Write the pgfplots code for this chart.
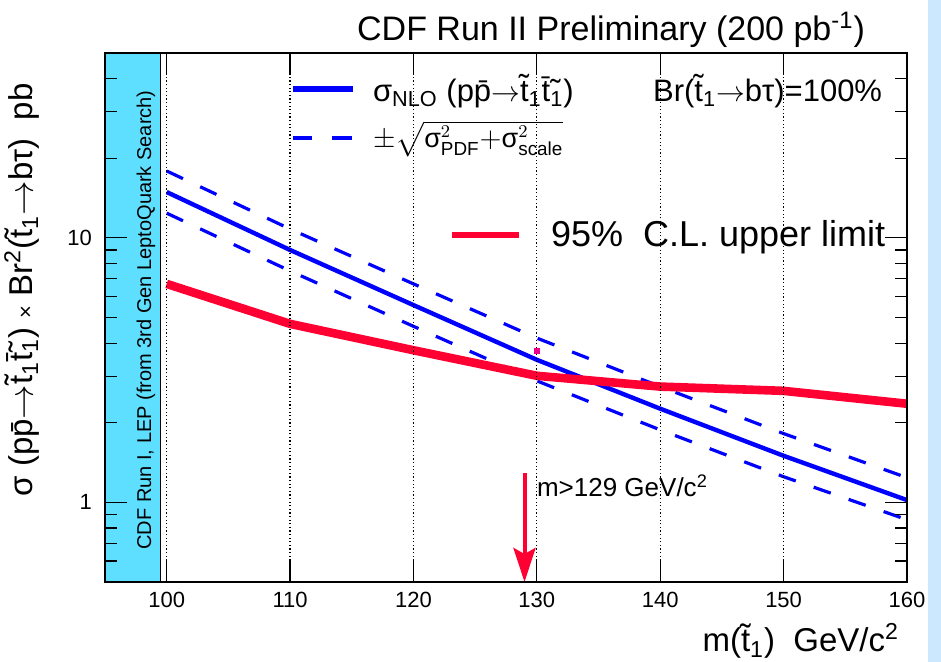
\documentclass[border=0pt]{standalone}
\usepackage{pgfplots}
\pgfplotsset{compat=1.18}
\usepackage{amsmath}
\usepackage{fontspec}
\setmainfont{Liberation Sans}
\usetikzlibrary{arrows.meta}
\definecolor{limred}{HTML}{FF0033}
\definecolor{nlo}{HTML}{0000FF}
\definecolor{exclband}{HTML}{5FDFFF}
\definecolor{slide}{HTML}{CCE8FF}
\newcommand{\stp}{\~{t}\textsubscript{1}}
\newcommand{\astp}{\~{\={t}}\textsubscript{1}}

\begin{document}
\begin{tikzpicture}
\begin{axis}[
  at={(52.5pt,40pt)}, anchor=south west,
  scale only axis, width=401pt, height=264.5pt,
  xmin=95, xmax=160, ymode=log, ymin=0.5, ymax=50,
  xtick={100,110,...,160},
  ytick={1,10}, yticklabels={1,10},
  minor ytick={0.6,0.7,0.8,0.9,2,3,4,5,6,7,8,9,20,30,40},
  xmajorgrids, grid style={black, line width=0.6pt, dash pattern=on 0.6pt off 1.2pt},
  tick align=inside, major tick length=11pt, minor tick length=6pt,
  tick style={black, line width=0.6pt, solid},
  axis line style={line width=0.9pt},
  tick label style={font=\fontsize{11}{13}\selectfont},
  xticklabel style={yshift=-1.5pt},
  yticklabel style={xshift=-3pt},
  /pgf/number format/assume math mode=true,
  axis on top,
]
% excluded region (CDF Run I, LEP)
\fill[exclband] (axis cs:95,0.5) rectangle (axis cs:99.5,50);
\draw[black, line width=0.7pt] (axis cs:99.5,0.5) -- (axis cs:99.5,50);

% NLO cross section and its uncertainty
\addplot[nlo, line width=2.2pt] coordinates {
  (100,14.9) (110,9.0) (120,5.57) (130,3.46) (140,2.26) (150,1.50) (160,1.02)};
\addplot[nlo, line width=1.6pt, dash pattern=on 9pt off 9.5pt] coordinates {
  (100,17.9) (110,10.8) (120,6.7) (130,4.18) (140,2.74) (150,1.82) (160,1.24)};
\addplot[nlo, line width=1.6pt, dash pattern=on 9pt off 9.5pt] coordinates {
  (100,12.4) (110,7.5) (120,4.63) (130,2.88) (140,1.88) (150,1.25) (160,0.86)};

% 95% C.L. upper limit
\addplot[limred, line width=4.3pt] coordinates {
  (100,6.7) (110,4.73) (120,3.76) (130,3.01) (140,2.74) (150,2.64) (160,2.36)};

\addplot[only marks, mark=square*, mark size=1.2pt, magenta] coordinates {(130,3.75)};

% mass limit
\draw[limred, line width=2pt, -{Stealth[length=17pt,width=11pt,inset=3pt]}]
  (axis cs:129,1.29) -- (axis cs:129,0.5);
\end{axis}

\begin{scope}[shift={(0pt,331pt)}, x=0.5pt, y=-0.5pt]
  \fill[slide] (928,0) rectangle (941,662);
  \node[anchor=east, font=\fontsize{17}{20}\selectfont] at (872,30)
    {CDF Run II Preliminary (200 pb\textsuperscript{-1})};
  % legend
  \draw[nlo, line width=3pt] (293,89) -- (353,89);
  \node[anchor=west, font=\fontsize{15.5}{18}\selectfont] at (366,91)
    {σ\textsubscript{NLO} (p\={p}$\rightarrow$\stp\astp)};
  \draw[nlo, line width=1.6pt] (293,138) -- (312,138) (332,138) -- (352,138);
  \node[anchor=west, font=\fontsize{13.5}{16}\selectfont] at (366,139)
    {$\pm\sqrt{\text{σ}^{2}_{\text{PDF}}{+}\text{σ}^{2}_{\text{scale}}}$};
  \node[anchor=west, font=\fontsize{15.5}{18}\selectfont] at (646,91)
    {Br(\stp$\rightarrow$bτ)=100\%};
  \draw[limred, line width=2.6pt] (452,235) -- (519,235);
  \node[anchor=west, font=\fontsize{18}{21}\selectfont] at (544,237)
    {95\%\ \ C.L. upper limit};
  \node[anchor=west, font=\fontsize{13}{15}\selectfont] at (530,486)
    {m>129 GeV/c\textsuperscript{2}};
  % band text
  \node[rotate=90, font=\fontsize{10}{12}\selectfont] at (146,320)
    {CDF Run I, LEP (from 3rd Gen LeptoQuark Search)};
  % axis titles
  \node[anchor=base east, font=\fontsize{16.5}{19}\selectfont] at (906,652)
    {m(\stp)\ \ GeV/c\textsuperscript{2}};
  \node[rotate=90, font=\fontsize{16.5}{19}\selectfont] at (22,290)
    {σ (p\={p}$\rightarrow$\stp\astp) {\fontsize{11}{13}\selectfont×} Br\textsuperscript{2}(\stp$\rightarrow$bτ)\ \ pb};
\end{scope}
\pgfresetboundingbox
\path (0,0) rectangle (470.5pt,331pt);
\end{tikzpicture}
\end{document}
